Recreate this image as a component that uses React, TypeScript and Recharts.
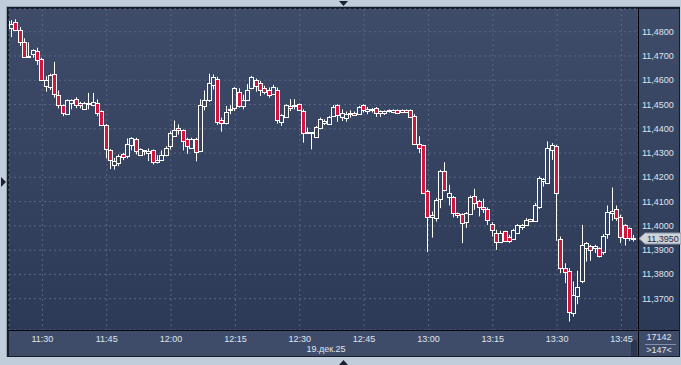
import React from 'react';
import { ComposedChart, Bar, XAxis, YAxis, CartesianGrid, ReferenceLine } from 'recharts';

const times = [
  '11:22','11:23','11:24','11:25','11:26','11:27','11:28','11:29','11:30','11:31','11:32','11:33','11:34','11:35','11:36','11:37','11:38','11:39',
  '11:40','11:41','11:42','11:43','11:44','11:45','11:46','11:47','11:48','11:49','11:50','11:51','11:52','11:53','11:54','11:55','11:56','11:57','11:58','11:59',
  '12:00','12:01','12:02','12:03','12:04','12:05','12:06','12:07','12:08','12:09','12:10','12:11','12:12','12:13','12:14','12:15','12:16','12:17','12:18','12:19',
  '12:20','12:21','12:22','12:23','12:24','12:25','12:26','12:27','12:28','12:29','12:30','12:31','12:32','12:33','12:34','12:35','12:36','12:37','12:38','12:39',
  '12:40','12:41','12:42','12:43','12:44','12:45','12:46','12:47','12:48','12:49','12:50','12:51','12:52','12:53','12:54','12:55','12:56','12:57','12:58','12:59',
  '13:00','13:01','13:02','13:03','13:04','13:05','13:06','13:07','13:08','13:09','13:10','13:11','13:12','13:13','13:14','13:15','13:16','13:17','13:18','13:19',
  '13:20','13:21','13:22','13:23','13:24','13:25','13:26','13:27','13:28','13:29','13:30','13:31','13:32','13:33','13:34','13:35','13:36','13:37','13:38','13:39',
  '13:40','13:41','13:42','13:43','13:44','13:45','13:46','13:47','13:48',
];

const open = [
  11.4830,11.4814,11.4838,11.4806,11.4756,11.4701,11.4709,11.4720,11.4689,11.4576,11.4572,11.4627,11.4541,11.4496,11.4462,11.4506,11.4524,11.4507,
  11.4482,11.4505,11.4498,11.4507,11.4473,11.4416,11.4313,11.4250,11.4258,11.4297,11.4287,11.4333,11.4356,11.4294,11.4308,11.4301,11.4311,11.4265,11.4271,11.4291,
  11.4328,11.4372,11.4404,11.4393,11.4356,11.4322,11.4359,11.4308,11.4493,11.4517,11.4580,11.4607,11.4435,11.4425,11.4476,11.4487,11.4553,11.4494,11.4519,11.4566,
  11.4601,11.4590,11.4567,11.4560,11.4542,11.4559,11.4428,11.4449,11.4494,11.4493,11.4501,11.4473,11.4383,11.4386,11.4366,11.4405,11.4423,11.4421,11.4453,11.4498,
  11.4449,11.4446,11.4463,11.4463,11.4460,11.4498,11.4473,11.4476,11.4485,11.4467,11.4467,11.4473,11.4471,11.4476,11.4471,11.4478,11.4476,11.4453,11.4337,11.4332,
  11.4145,11.4037,11.4032,11.4112,11.4227,11.4121,11.4120,11.4052,11.4049,11.4015,11.4048,11.4123,11.4101,11.4076,11.4070,11.4007,11.3970,11.3933,11.3977,11.3953,
  11.3945,11.3970,11.3997,11.4004,11.4021,11.4021,11.4076,11.4183,11.4176,11.4314,11.4330,11.3947,11.3826,11.3815,11.3640,11.3713,11.3771,11.3908,11.3918,11.3908,
  11.3908,11.3892,11.3966,11.4052,11.4068,11.4037,11.4004,11.3991,11.3947,
];

const high = [
  11.4855,11.4847,11.4851,11.4819,11.4773,11.4756,11.4727,11.4734,11.4693,11.4617,11.4627,11.4676,11.4558,11.4500,11.4521,11.4521,11.4530,11.4511,
  11.4511,11.4548,11.4548,11.4521,11.4476,11.4420,11.4316,11.4280,11.4294,11.4301,11.4360,11.4365,11.4363,11.4319,11.4312,11.4319,11.4315,11.4291,11.4311,11.4328,
  11.4390,11.4434,11.4418,11.4397,11.4363,11.4363,11.4363,11.4521,11.4558,11.4627,11.4624,11.4614,11.4446,11.4494,11.4497,11.4572,11.4567,11.4540,11.4584,11.4618,
  11.4607,11.4597,11.4577,11.4570,11.4581,11.4570,11.4460,11.4501,11.4522,11.4522,11.4504,11.4480,11.4405,11.4387,11.4412,11.4446,11.4439,11.4453,11.4498,11.4501,
  11.4480,11.4471,11.4476,11.4471,11.4494,11.4501,11.4490,11.4485,11.4490,11.4476,11.4476,11.4480,11.4480,11.4480,11.4480,11.4480,11.4480,11.4460,11.4369,11.4334,
  11.4149,11.4059,11.4114,11.4231,11.4262,11.4169,11.4123,11.4055,11.4052,11.4057,11.4125,11.4153,11.4107,11.4112,11.4076,11.4015,11.3984,11.3980,11.3980,11.3963,
  11.3988,11.4007,11.4007,11.4032,11.4029,11.4094,11.4204,11.4197,11.4348,11.4341,11.4334,11.3956,11.3846,11.3826,11.3771,11.3815,11.4004,11.3933,11.3922,11.3922,
  11.3911,11.3966,11.4084,11.4158,11.4084,11.4046,11.4007,11.3993,11.3963,
];

const low = [
  11.4820,11.4778,11.4805,11.4741,11.4693,11.4693,11.4693,11.4663,11.4597,11.4553,11.4560,11.4528,11.4484,11.4452,11.4459,11.4480,11.4485,11.4484,
  11.4480,11.4480,11.4493,11.4452,11.4411,11.4278,11.4234,11.4232,11.4246,11.4271,11.4278,11.4311,11.4294,11.4291,11.4291,11.4267,11.4253,11.4257,11.4267,11.4287,
  11.4315,11.4366,11.4376,11.4311,11.4297,11.4319,11.4266,11.4305,11.4476,11.4511,11.4562,11.4416,11.4388,11.4418,11.4460,11.4473,11.4487,11.4480,11.4515,11.4563,
  11.4553,11.4535,11.4542,11.4528,11.4540,11.4421,11.4412,11.4446,11.4473,11.4480,11.4473,11.4343,11.4381,11.4315,11.4363,11.4398,11.4416,11.4416,11.4449,11.4429,
  11.4432,11.4429,11.4446,11.4453,11.4457,11.4467,11.4460,11.4467,11.4449,11.4449,11.4457,11.4467,11.4464,11.4463,11.4464,11.4467,11.4446,11.4333,11.4300,11.4131,
  11.3892,11.3952,11.4018,11.4073,11.4142,11.4084,11.4035,11.4032,11.3929,11.3991,11.4046,11.4066,11.4039,11.4053,11.4004,11.3956,11.3901,11.3929,11.3936,11.3929,
  11.3942,11.3966,11.3984,11.4002,11.4015,11.4018,11.4070,11.4162,11.4172,11.4272,11.3938,11.3805,11.3764,11.3606,11.3626,11.3677,11.3764,11.3853,11.3856,11.3888,
  11.3870,11.3881,11.3947,11.4021,11.4021,11.3929,11.3919,11.3938,11.3936,
];

const close = [
  11.4845,11.4830,11.4808,11.4759,11.4696,11.4695,11.4724,11.4685,11.4601,11.4599,11.4620,11.4544,11.4498,11.4463,11.4520,11.4520,11.4498,11.4496,
  11.4506,11.4508,11.4511,11.4466,11.4415,11.4316,11.4272,11.4269,11.4288,11.4283,11.4339,11.4360,11.4308,11.4315,11.4311,11.4308,11.4265,11.4271,11.4290,11.4322,
  11.4383,11.4397,11.4396,11.4349,11.4328,11.4356,11.4304,11.4500,11.4517,11.4590,11.4614,11.4430,11.4425,11.4471,11.4480,11.4567,11.4494,11.4519,11.4559,11.4614,
  11.4577,11.4560,11.4553,11.4540,11.4574,11.4436,11.4456,11.4498,11.4487,11.4497,11.4478,11.4384,11.4386,11.4383,11.4408,11.4439,11.4433,11.4449,11.4490,11.4457,
  11.4464,11.4460,11.4467,11.4456,11.4490,11.4476,11.4480,11.4482,11.4467,11.4473,11.4473,11.4477,11.4478,11.4467,11.4478,11.4471,11.4449,11.4337,11.4321,11.4135,
  11.4035,11.4045,11.4107,11.4227,11.4149,11.4135,11.4052,11.4046,11.4011,11.4052,11.4120,11.4094,11.4076,11.4071,11.4025,11.3984,11.3933,11.3970,11.3938,11.3936,
  11.3981,11.4004,11.4004,11.4025,11.4028,11.4087,11.4197,11.4192,11.4321,11.4334,11.4135,11.3826,11.3809,11.3647,11.3716,11.3750,11.3922,11.3929,11.3901,11.3918,
  11.3874,11.3959,11.4057,11.4062,11.4032,11.3956,11.3952,11.3952,11.3950,
];

const xTickLabels = ['11:30', '11:45', '12:00', '12:15', '12:30', '12:45', '13:00', '13:15', '13:30', '13:45'];
const yTicks = [11.37, 11.38, 11.39, 11.40, 11.41, 11.42, 11.43, 11.44, 11.45, 11.46, 11.47, 11.48];
const dateLabel = '19.дек.25';
const volumeLabel = '17142';
const countLabel = '>147<';
const lastPrice = 11.395;

const toMin = (t: string) => {
  const [h, m] = t.split(':').map(Number);
  return h * 60 + m - (11 * 60 + 30);
};

const data = times.map((t, i) => ({
  t: toMin(t),
  o: open[i],
  h: high[i],
  l: low[i],
  c: close[i],
  range: [low[i], high[i]],
}));

const xTicks = xTickLabels.map(toMin);
const labelByMin: Record<number, string> = {};
xTickLabels.forEach((l) => (labelByMin[toMin(l)] = l));

const FONT = '"Liberation Sans", Arial, sans-serif';
const TXT = '#dfe4ec';

const Candle = (props: any) => {
  const { x, y, width, height, payload } = props;
  if (!payload || height == null) return null;
  const top = Math.min(y, y + height);
  const hh = Math.abs(height);
  const { o, h: hi, l: lo, c } = payload;
  const k = hh / (hi - lo);
  const py = (p: number) => top + (hi - p) * k;
  const cx = Math.round(x + width / 2);
  const up = c >= o;
  const bTop = Math.round(py(Math.max(o, c))) + 0.5;
  let bBot = Math.round(py(Math.min(o, c))) + 0.5;
  if (bBot - bTop < 1) bBot = bTop + 1;
  const wx = cx - 0.5;
  return (
    <g>
      <line x1={wx} x2={wx} y1={top} y2={bTop} stroke="#ffffff" strokeWidth={1} />
      <line x1={wx} x2={wx} y1={bBot} y2={top + hh} stroke="#ffffff" strokeWidth={1} />
      <rect
        x={cx - 2.5}
        y={bTop}
        width={4}
        height={bBot - bTop}
        fill={up ? 'none' : '#d3143c'}
        stroke="#ffffff"
        strokeWidth={1}
      />
    </g>
  );
};

const XTick = (props: any) => {
  const { x, y, payload } = props;
  return (
    <text x={x} y={y + 9} textAnchor="middle" dominantBaseline="central" fill={TXT} fontFamily={FONT} fontSize={9}>
      {labelByMin[payload.value] ?? ''}
    </text>
  );
};

const YTick = (props: any) => {
  const { x, y, payload } = props;
  return (
    <text x={x + 4} y={y} textAnchor="start" dominantBaseline="central" fill={TXT} fontFamily={FONT} fontSize={9}>
      {payload.value.toFixed(4).replace('.', ',')}
    </text>
  );
};

const PriceTag = (props: any) => {
  const vb = props.viewBox || {};
  const x0 = vb.x + vb.width + 1;
  const y0 = Math.round(vb.y) + 0.5;
  const pts = `${x0},${y0} ${x0 + 6},${y0 - 5.5} ${x0 + 42},${y0 - 5.5} ${x0 + 42},${y0 + 5.5} ${x0 + 6},${y0 + 5.5}`;
  return (
    <g>
      <polygon points={pts} fill="#cfd3da" stroke="#8d96a6" strokeWidth={1} />
      <text x={x0 + 8} y={y0} dominantBaseline="central" fill="#1f2940" fontFamily={FONT} fontSize={9}>
        {lastPrice.toFixed(4).replace('.', ',')}
      </text>
    </g>
  );
};

const abs = (s: React.CSSProperties): React.CSSProperties => ({ position: 'absolute', ...s });

export default function App() {
  return (
    <div style={{ position: 'fixed', left: 0, top: 0, width: 681, height: 365, overflow: 'hidden', background: '#c2cddb' }}>
      {/* frame lines */}
      <div style={abs({ left: 6, top: 6, width: 674, height: 351, background: '#98a4b4' })} />
      <div style={abs({ left: 7, top: 7, width: 673, height: 350, background: '#161c29' })} />
      {/* plot + right panel gradient */}
      <div style={abs({ left: 9, top: 9, width: 670, height: 321, background: 'linear-gradient(#3e4b69, #2c3957)' })} />
      {/* bottom axis band */}
      <div style={abs({ left: 9, top: 331, width: 670, height: 25, background: '#3f4c69' })} />
      <div style={abs({ left: 631, top: 340, width: 6, height: 16, background: '#2a3652' })} />
      <div style={abs({ left: 0, top: 0 })}>
        <ComposedChart
          width={681}
          height={365}
          data={data}
          margin={{ top: 9, right: 2, bottom: 9, left: 9 }}
        >
          <CartesianGrid stroke="#5a6682" strokeDasharray="2 3" />
          <XAxis
            dataKey="t"
            type="number"
            domain={[-7.78, 138.85]}
            allowDataOverflow
            ticks={xTicks}
            interval={0}
            height={26}
            tickLine={false}
            axisLine={false}
            tickSize={0}
            tickMargin={0}
            tick={<XTick />}
          />
          <YAxis
            orientation="right"
            type="number"
            domain={[11.3571, 11.48935]}
            allowDataOverflow
            ticks={yTicks}
            interval={0}
            width={41}
            tickLine={false}
            axisLine={false}
            tickSize={0}
            tickMargin={0}
            tick={<YTick />}
          />
          <Bar dataKey="range" barSize={4} shape={<Candle />} isAnimationActive={false} />
          <ReferenceLine y={lastPrice} stroke="none" label={<PriceTag />} />
        </ComposedChart>
      </div>
      {/* axis separators */}
      <div style={abs({ left: 8, top: 330, width: 671, height: 1, background: '#05070c' })} />
      <div style={abs({ left: 638, top: 8, width: 1, height: 348, background: '#05070c' })} />
      <div style={abs({ left: 645, top: 344, width: 31, height: 1, background: '#8590a6' })} />
      <div style={abs({ left: 639, top: 332, width: 40, textAlign: 'center', color: TXT, fontFamily: FONT, fontSize: 9, lineHeight: '11px' })}>
        {volumeLabel}
      </div>
      <div style={abs({ left: 639, top: 345, width: 40, textAlign: 'center', color: TXT, fontFamily: FONT, fontSize: 9, lineHeight: '11px' })}>
        {countLabel}
      </div>
      <div style={abs({ left: 226, top: 344, width: 200, textAlign: 'center', color: TXT, fontFamily: FONT, fontSize: 9, lineHeight: '11px' })}>
        {dateLabel}
      </div>
      {/* markers */}
      <svg width={681} height={365} style={abs({ left: 0, top: 0, pointerEvents: 'none' })}>
        <polygon points="339,1 348,1 343.5,6" fill="#1b2233" />
        <polygon points="339,365 348,365 343.5,360" fill="#1b2233" />
        <polygon points="1,177 1,187 6,182" fill="#1b2233" />
      </svg>
    </div>
  );
}
